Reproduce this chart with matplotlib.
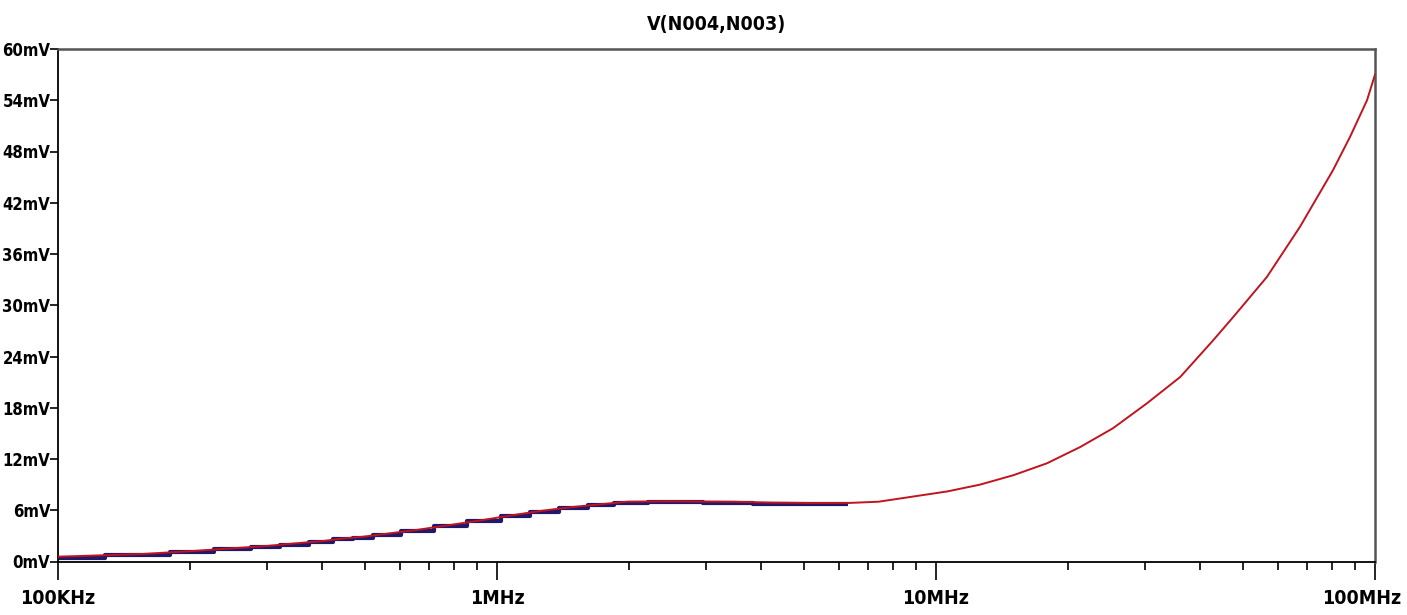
import matplotlib
matplotlib.use("Agg")
import matplotlib.pyplot as plt
import matplotlib.transforms as mtransforms
import numpy as np
from matplotlib import font_manager
from matplotlib.ticker import FixedLocator, NullFormatter

# pick a narrow/condensed sans font if one is installed
narrow = None
for pref in ['LiberationSansNarrow-Bold', 'DejaVuSansCondensed-Bold',
             'LiberationSansNarrow-Regular', 'DejaVuSansCondensed.ttf']:
    for fe in font_manager.fontManager.ttflist:
        if pref in fe.fname:
            narrow = fe.fname
            break
    if narrow:
        break
if narrow is None:
    for fe in font_manager.fontManager.ttflist:
        if ('Condensed' in fe.fname or 'Narrow' in fe.fname) and 'Oblique' not in fe.fname \
                and 'Italic' not in fe.fname:
            narrow = fe.fname
            break
fp = font_manager.FontProperties(fname=narrow) if narrow else font_manager.FontProperties(family='DejaVu Sans')

title = "V(N004,N003)"
freq_hz = [100e3, 156e3, 203e3, 250e3, 299e3, 343e3, 402e3, 446e3, 495e3, 550e3,
           657e3, 781e3, 929e3, 1.11e6, 1.27e6, 1.50e6, 1.72e6, 1.98e6, 2.44e6, 3.45e6,
           4.2e6, 5.2e6, 6.3e6, 7.4e6, 8.86e6, 10.6e6, 12.6e6, 15.0e6, 17.9e6, 21.3e6,
           25.3e6, 30.2e6, 36.0e6, 42.8e6, 47.5e6, 56.7e6, 67.5e6, 80.2e6, 87.7e6,
           95.9e6, 100e6]
v_mv = [0.56, 0.88, 1.23, 1.55, 1.82, 2.1, 2.4, 2.7, 2.9, 3.2,
        3.7, 4.27, 4.86, 5.5, 5.95, 6.4, 6.7, 7.0, 7.05, 7.0,
        6.9, 6.85, 6.85, 7.0, 7.6, 8.2, 9.0, 10.1, 11.5, 13.4,
        15.6, 18.5, 21.6, 25.9, 28.6, 33.3, 39.2, 45.8, 49.7,
        54.0, 57.0]
y_ticks = [0, 6, 12, 18, 24, 30, 36, 42, 48, 54, 60]
y_labels = ["0mV", "6mV", "12mV", "18mV", "24mV", "30mV", "36mV", "42mV", "48mV", "54mV", "60mV"]
x_ticks = [1e5, 1e6, 1e7, 1e8]
x_labels = ["100KHz", "1MHz", "10MHz", "100MHz"]

f = np.array(freq_hz)
v = np.array(v_mv)

fig = plt.figure(figsize=(14.07, 6.15), dpi=100)
ax = fig.add_axes([58/1407, 1-561.5/615, (1375-58)/1407, (561.5-49)/615])

mask = f <= 7e6
ax.plot(f[mask], v[mask] - 0.12, color='#22186a', lw=3.0, drawstyle='steps-mid',
        solid_capstyle='butt', zorder=2)
ax.plot(f, v, color='#c0141e', lw=1.4, zorder=3)

ax.set_xscale('log')
ax.set_xlim(1e5, 1e8)
ax.set_ylim(0, 60)

ax.xaxis.set_major_locator(FixedLocator(x_ticks))
ax.set_xticklabels(x_labels, fontproperties=fp, fontsize=14)
minors = [m * 10**e for e in range(5, 8) for m in range(2, 10)]
ax.xaxis.set_minor_locator(FixedLocator(minors))
ax.xaxis.set_minor_formatter(NullFormatter())
ax.set_yticks(y_ticks)
ax.set_yticklabels(y_labels, fontproperties=fp, fontsize=12)
ax.yaxis.set_minor_locator(FixedLocator([]))

ax.tick_params(axis='x', which='major', direction='out', length=13, width=1.2,
               pad=7, color='black')
ax.tick_params(axis='x', which='minor', direction='out', length=5.5, width=1.2, color='black')
ax.tick_params(axis='y', which='major', direction='out', length=5.5, width=1.2,
               pad=0, color='black')

# keep the last frequency label inside the figure, like the reference
last = ax.get_xticklabels()[-1]
last.set_horizontalalignment('right')
last.set_transform(last.get_transform() +
                   mtransforms.ScaledTranslation(0.26, 0, fig.dpi_scale_trans))

for s in ['left', 'bottom']:
    ax.spines[s].set_color('black')
    ax.spines[s].set_linewidth(1.3)
for s in ['top', 'right']:
    ax.spines[s].set_color('#555555')
    ax.spines[s].set_linewidth(1.8)

ax.set_title(title, fontproperties=fp, fontsize=14, pad=14)

fig.savefig("out.png", dpi=100, facecolor='white')
